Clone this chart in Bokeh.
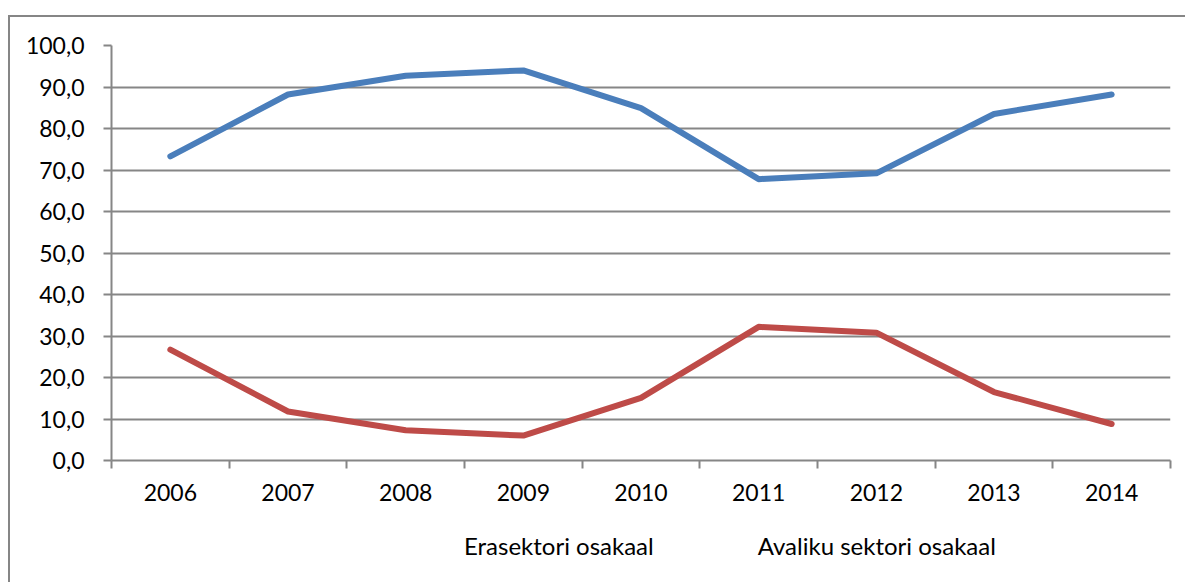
from bokeh.plotting import figure
from bokeh.layouts import column
from bokeh.models import FixedTicker, Legend, LegendItem
from bokeh.embed import file_html
from bokeh.resources import INLINE

years = ["2006", "2007", "2008", "2009", "2010", "2011", "2012", "2013", "2014"]
erasektor = [73.3, 88.2, 92.7, 94.0, 84.9, 67.8, 69.2, 83.5, 88.2]
avalik = [26.7, 11.8, 7.3, 6.0, 15.1, 32.2, 30.8, 16.5, 8.8]
y_ticks = [0, 10, 20, 30, 40, 50, 60, 70, 80, 90, 100]
series_names = ["Erasektori osakaal", "Avaliku sektori osakaal"]
series_colors = ["#4A7EBB", "#BE4B48"]

FONT = "Lato"
GRID = "#868686"

xs = [i + 0.5 for i in range(len(years))]

p = figure(width=1177, height=503, output_backend="svg", toolbar_location=None,
           x_range=(0, len(years)), y_range=(0, 100),
           min_border_left=101, min_border_right=17, min_border_top=28, min_border_bottom=60,
           styles={"border-left": "2px solid #868686", "border-top": "2px solid #868686"})
p.margin = (15, 0, 0, 8)
p.outline_line_color = None
p.background_fill_color = "white"
p.border_fill_color = "white"

# x axis
p.xaxis.ticker = FixedTicker(ticks=xs, minor_ticks=list(range(len(years) + 1)))
p.xaxis.major_label_overrides = {x: y for x, y in zip(xs, years)}
p.xaxis.major_tick_out = 0
p.xaxis.major_tick_in = 0
p.xaxis.minor_tick_out = 8
p.xaxis.minor_tick_in = 0
p.xaxis.minor_tick_line_color = GRID
p.xaxis.minor_tick_line_width = 2
p.xaxis.axis_line_color = GRID
p.xaxis.axis_line_width = 2
p.xaxis.major_label_text_font = FONT
p.xaxis.major_label_text_font_size = "23px"
p.xaxis.major_label_text_color = "black"
p.xaxis.major_label_standoff = 15
p.xgrid.grid_line_color = None

# y axis
p.yaxis.ticker = FixedTicker(ticks=y_ticks, minor_ticks=[])
p.yaxis.major_label_overrides = {v: f"{v:.1f}".replace(".", ",") for v in y_ticks}
p.yaxis.major_tick_out = 8
p.yaxis.major_tick_in = 0
p.yaxis.major_tick_line_color = GRID
p.yaxis.major_tick_line_width = 2
p.yaxis.axis_line_color = GRID
p.yaxis.axis_line_width = 2
p.yaxis.major_label_text_font = FONT
p.yaxis.major_label_text_font_size = "23px"
p.yaxis.major_label_text_color = "black"
p.yaxis.major_label_standoff = 19
p.ygrid.grid_line_color = GRID
p.ygrid.grid_line_width = 2

p.line(xs, erasektor, line_color=series_colors[0], line_width=6, line_cap="round", line_join="round")
p.line(xs, avalik, line_color=series_colors[1], line_width=6, line_cap="round", line_join="round")

# legend strip below the chart (same chart border on the left)
p2 = figure(width=1177, height=64, output_backend="svg", toolbar_location=None,
            x_range=(0, 1), y_range=(0, 1), x_axis_type=None, y_axis_type=None,
            min_border_left=0, min_border_right=0, min_border_top=0, min_border_bottom=0,
            styles={"border-left": "2px solid #868686"})
p2.margin = (0, 0, 0, 8)
p2.outline_line_color = None
p2.background_fill_color = "white"
p2.border_fill_color = "white"
p2.xgrid.grid_line_color = None
p2.ygrid.grid_line_color = None

legend_renderers = [p2.line(x=[], y=[], line_color=c, line_width=6, line_cap="round")
                    for c in series_colors]

legend = Legend(items=[LegendItem(label=n, renderers=[r]) for n, r in zip(series_names, legend_renderers)],
                orientation="horizontal", location=(293, 22),
                label_text_font=FONT, label_text_font_size="24px", label_text_color="black",
                glyph_width=57, glyph_height=24, label_height=24, label_standoff=3,
                spacing=44, padding=0, margin=0,
                background_fill_alpha=0, border_line_color=None)
p2.add_layout(legend, "center")

layout = column(p, p2, spacing=0)
open("out.html", "w").write(file_html(layout, INLINE))
